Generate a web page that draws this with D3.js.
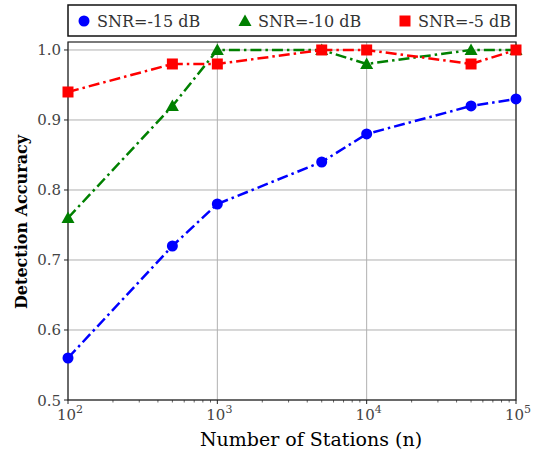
<!DOCTYPE html>
<html>
<head>
<meta charset="utf-8">
<script src="https://cdn.jsdelivr.net/npm/d3@7"></script>
<style>
  body { margin: 0; background: white; }
</style>
</head>
<body>
<div id="chart"></div>
<script>
"use strict"

const stations = [100, 500, 1000, 5000, 10000, 50000, 100000]
const snrM15 = [0.56, 0.72, 0.78, 0.84, 0.88, 0.92, 0.93]
const snrM10 = [0.76, 0.92, 1.0, 1.0, 0.98, 1.0, 1.0]
const snrM5 = [0.94, 0.98, 0.98, 1.0, 1.0, 0.98, 1.0]
const seriesNames = ["SNR=-15 dB", "SNR=-10 dB", "SNR=-5 dB"]
const yTicks = [0.5, 0.6, 0.7, 0.8, 0.9, 1.0]
const xTicks = [1e2, 1e3, 1e4, 1e5]

const width = 534, height = 452
const margin = ({top: 42, right: 18, bottom: 52, left: 68})
const serif = "'DejaVu Serif', 'Liberation Serif', serif"

const series = [
  {name: seriesNames[0], values: snrM15, color: "#0000ff", shape: "circle"},
  {name: seriesNames[1], values: snrM10, color: "#008000", shape: "triangle"},
  {name: seriesNames[2], values: snrM5, color: "#ff0000", shape: "square"},
]

const x = d3.scaleLog()
  .domain([1e2, 1e5])
  .range([margin.left, width - margin.right])

const y = d3.scaleLinear()
  .domain([0.5, 1.0114])
  .range([height - margin.bottom, margin.top])

const svg = d3.select("#chart").append("svg")
  .attr("width", width)
  .attr("height", height)
  .attr("font-family", serif)

// grid
svg.append("g")
  .selectAll("line")
  .data(yTicks)
  .join("line")
    .attr("x1", margin.left).attr("x2", width - margin.right)
    .attr("y1", d => y(d)).attr("y2", d => y(d))
    .attr("stroke", "#b0b0b0").attr("stroke-width", 1)

svg.append("g")
  .selectAll("line")
  .data(xTicks)
  .join("line")
    .attr("x1", d => x(d)).attr("x2", d => x(d))
    .attr("y1", margin.top).attr("y2", height - margin.bottom)
    .attr("stroke", "#b0b0b0").attr("stroke-width", 1)

// frame
svg.append("rect")
  .attr("x", margin.left).attr("y", margin.top)
  .attr("width", width - margin.left - margin.right)
  .attr("height", height - margin.top - margin.bottom)
  .attr("fill", "none").attr("stroke", "#222").attr("stroke-width", 1.2)

// axes
const minor = d3.range(2, 5).flatMap(e => d3.range(2, 10).map(m => m * Math.pow(10, e)))
const xAxis = svg.append("g")
  .attr("transform", `translate(0,${height - margin.bottom})`)
xAxis.selectAll("line.minor")
  .data(minor)
  .join("line")
    .attr("class", "minor")
    .attr("x1", d => x(d)).attr("x2", d => x(d))
    .attr("y1", 0).attr("y2", 2.5)
    .attr("stroke", "#222").attr("stroke-width", 0.7)
xAxis.selectAll("line.major")
  .data(xTicks)
  .join("line")
    .attr("class", "major")
    .attr("x1", d => x(d)).attr("x2", d => x(d))
    .attr("y1", 0).attr("y2", 4)
    .attr("stroke", "#222").attr("stroke-width", 1)
const xl = xAxis.selectAll("text")
  .data(xTicks)
  .join("text")
    .attr("x", d => x(d) + 2)
    .attr("y", 20)
    .attr("text-anchor", "middle")
    .attr("fill", "#444")
    .style("font-size", "15px")
xl.append("tspan").text("10")
xl.append("tspan").text(d => Math.round(Math.log10(d)))
  .attr("dy", -7).style("font-size", "11px")

const yAxis = svg.append("g")
  .attr("transform", `translate(${margin.left},0)`)
yAxis.selectAll("line")
  .data(yTicks)
  .join("line")
    .attr("x1", -4).attr("x2", 0)
    .attr("y1", d => y(d)).attr("y2", d => y(d))
    .attr("stroke", "#222")
yAxis.selectAll("text")
  .data(yTicks)
  .join("text")
    .attr("x", -7)
    .attr("y", d => y(d) + 5.5)
    .attr("text-anchor", "end")
    .attr("fill", "#444")
    .style("font-size", "15px")
    .text(d => d.toFixed(1))

svg.append("text")
  .attr("x", 311)
  .attr("y", 446)
  .attr("text-anchor", "middle")
  .style("font-size", "19px")
  .text("Number of Stations (n)")

svg.append("text")
  .attr("transform", `translate(27,222) rotate(-90)`)
  .attr("text-anchor", "middle")
  .style("font-size", "16px")
  .style("font-weight", "bold")
  .text("Detection Accuracy")

function drawMarker(g, shape, color, cx, cy) {
  if (shape == "circle") {
    g.append("circle").attr("cx", cx).attr("cy", cy).attr("r", 5.5).attr("fill", color)
  } else if (shape == "square") {
    g.append("rect").attr("x", cx - 5.5).attr("y", cy - 5.5).attr("width", 11).attr("height", 11).attr("fill", color)
  } else {
    g.append("path")
      .attr("d", `M${cx},${cy - 6.5}L${cx + 6.5},${cy + 5}L${cx - 6.5},${cy + 5}Z`)
      .attr("fill", color)
  }
}

const line = d3.line()
  .x((d, i) => x(stations[i]))
  .y(d => y(d))

const plot = svg.append("g")
for (const s of series) {
  const g = plot.append("g")
  g.append("path")
    .attr("d", line(s.values))
    .attr("fill", "none")
    .attr("stroke", s.color)
    .attr("stroke-width", 2.5)
    .attr("stroke-dasharray", "11,4,2.5,4")
  s.values.forEach((v, i) => drawMarker(g, s.shape, s.color, x(stations[i]), y(v)))
}

// legend
const legend = svg.append("g")
legend.append("rect")
  .attr("x", 68).attr("y", 5)
  .attr("width", 448).attr("height", 31)
  .attr("fill", "white").attr("stroke", "#111").attr("stroke-width", 1.5)
const legendX = [84, 245, 405]
series.forEach((s, i) => {
  drawMarker(legend, s.shape, s.color, legendX[i], 21)
  legend.append("text")
    .attr("x", legendX[i] + 13)
    .attr("y", 26.5)
    .style("font-size", "16px")
    .attr("fill", "#333")
    .text(s.name)
})
</script>
</body>
</html>
